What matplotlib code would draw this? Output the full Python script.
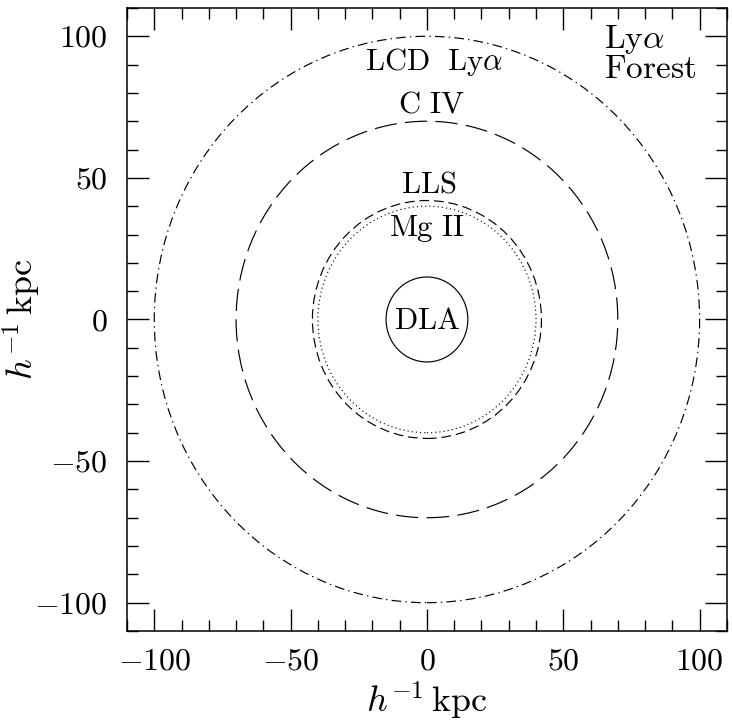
import numpy as np
import matplotlib
matplotlib.use("Agg")
import matplotlib.pyplot as plt
from matplotlib.patches import Circle
from matplotlib.ticker import MultipleLocator

plt.rcParams['font.family'] = 'serif'
plt.rcParams['font.serif'] = ['cmr10']
plt.rcParams['mathtext.fontset'] = 'cm'
plt.rcParams['axes.formatter.use_mathtext'] = True
plt.rcParams['lines.scale_dashes'] = False

# absorber cross-section radii (h^-1 kpc)
radii  = [100, 70, 42, 40, 15]
styles = [(0, (7, 3, 1, 3)), (0, (16, 6)), (0, (7, 3.5)), (0, (0.8, 2.2)), '-']

# labels: text, x, y (baseline), size
labels = [r'$\mathrm{LCD\ \ Ly}\alpha$', r'$\mathrm{C\ IV}$', r'$\mathrm{LLS}$',
          r'$\mathrm{Mg\ II}$', r'$\mathrm{DLA}$', r'$\mathrm{Ly}\alpha$', r'$\mathrm{Forest}$']
label_x = [2.5, 1.5, 0.5, 0, 0, 76, 82]
label_y = [88, 73, 45, 29.5, -3.5, 95.8, 85.2]
label_size = [22, 22, 22, 22, 22, 24, 24]

fig = plt.figure(figsize=(7.32, 7.22), dpi=100)
ax = fig.add_axes([0.1735, 0.126, 0.8195, 0.863])

for r, ls in zip(radii, styles):
    ax.add_patch(Circle((0, 0), r, fill=False, linestyle=ls, lw=0.85, color='black'))

for t, x, y, s in zip(labels, label_x, label_y, label_size):
    ax.text(x, y, t, ha='center', va='baseline', fontsize=s)

ax.set_xlim(-110, 110)
ax.set_ylim(-110, 110)
ax.xaxis.set_major_locator(MultipleLocator(50))
ax.yaxis.set_major_locator(MultipleLocator(50))
ax.xaxis.set_minor_locator(MultipleLocator(10))
ax.yaxis.set_minor_locator(MultipleLocator(10))
ax.tick_params(which='both', direction='in', top=True, right=True, width=1.0, labelsize=23)
ax.tick_params(which='major', length=16)
ax.tick_params(axis='y', which='major', pad=14)
ax.tick_params(axis='x', which='major', pad=12)
ax.tick_params(which='minor', length=8)
for s in ax.spines.values():
    s.set_linewidth(1.1)

ax.set_xlabel(r'$h^{-1}\,\mathrm{kpc}$', fontsize=26)
ax.set_ylabel(r'$h^{-1}\,\mathrm{kpc}$', fontsize=26)
ax.xaxis.set_label_coords(0.5, -0.078)
ax.yaxis.set_label_coords(-0.14, 0.5)

fig.savefig('out.png', dpi=100)
